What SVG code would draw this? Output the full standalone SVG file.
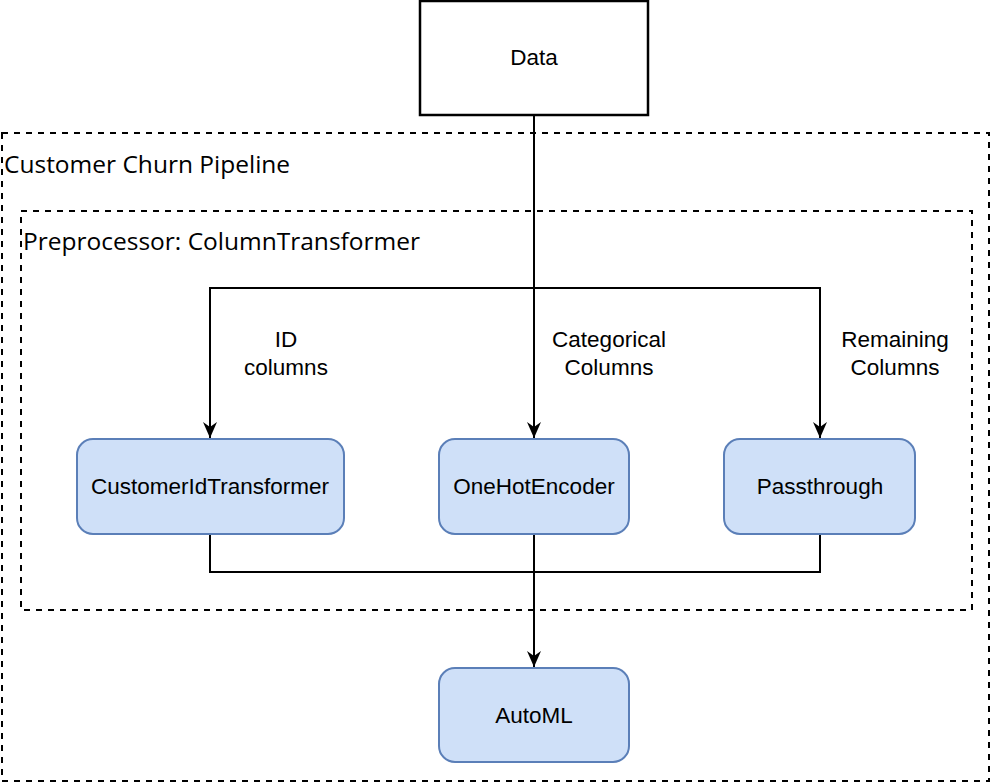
<svg xmlns="http://www.w3.org/2000/svg" width="992" height="783" viewBox="0 0 992 783">
<style>
.box{fill:#cfe0f8;stroke:#5b7fb8;stroke-width:2}
.lbl{font-family:"Liberation Sans",Arial,sans-serif;font-size:22.5px;fill:#000;text-anchor:middle}
.ttl{font-family:"Open Sans","Noto Sans",sans-serif;font-size:24.5px;fill:#000}
.grp{fill:none;stroke:#000;stroke-width:2;stroke-dasharray:6 6}
.edge{fill:none;stroke:#000;stroke-width:2}
</style>
<defs>
<marker id="arr" viewBox="0 0 16 14" refX="16" refY="7" markerWidth="16" markerHeight="14" markerUnits="userSpaceOnUse" orient="auto">
<path d="M0,0 L16,7 L0,14 L5,7 Z" fill="#000"/>
</marker>
</defs>
<rect width="992" height="783" fill="#fff"/>
<g id="pipeline">
<rect class="grp" x="2" y="133" width="987" height="648"/>
<text class="ttl" x="4" y="173">Customer Churn Pipeline</text>
</g>
<g id="preprocessor">
<rect class="grp" x="21" y="211" width="951" height="399"/>
<text class="ttl" x="23" y="250">Preprocessor: ColumnTransformer</text>
</g>
<g id="data">
<rect x="420" y="1" width="228" height="114" fill="#fff" stroke="#000" stroke-width="2.5"/>
<text class="lbl" x="534" y="65">Data</text>
</g>
<g id="connectors">
<path class="edge" d="M534,115 V438" marker-end="url(#arr)"/>
<path class="edge" d="M534,288 H210 V438" marker-end="url(#arr)"/>
<path class="edge" d="M534,288 H820 V438" marker-end="url(#arr)"/>
<path class="edge" d="M210,534 V572 H820 V534"/>
<path class="edge" d="M534,534 V667" marker-end="url(#arr)"/>
<text class="lbl" x="286" y="347">ID</text>
<text class="lbl" x="286" y="375">columns</text>
<text class="lbl" x="609" y="347">Categorical</text>
<text class="lbl" x="609" y="375">Columns</text>
<text class="lbl" x="895" y="347">Remaining</text>
<text class="lbl" x="895" y="375">Columns</text>
</g>
<g id="customerid">
<rect class="box" x="77" y="439" width="267" height="95" rx="16"/>
<text class="lbl" x="210" y="494">CustomerIdTransformer</text>
</g>
<g id="onehot">
<rect class="box" x="439" y="439" width="190" height="95" rx="16"/>
<text class="lbl" x="534" y="494">OneHotEncoder</text>
</g>
<g id="passthrough">
<rect class="box" x="724" y="439" width="191" height="95" rx="16"/>
<text class="lbl" x="820" y="494">Passthrough</text>
</g>
<g id="automl">
<rect class="box" x="439" y="668" width="190" height="94" rx="16"/>
<text class="lbl" x="534" y="723">AutoML</text>
</g>
</svg>
